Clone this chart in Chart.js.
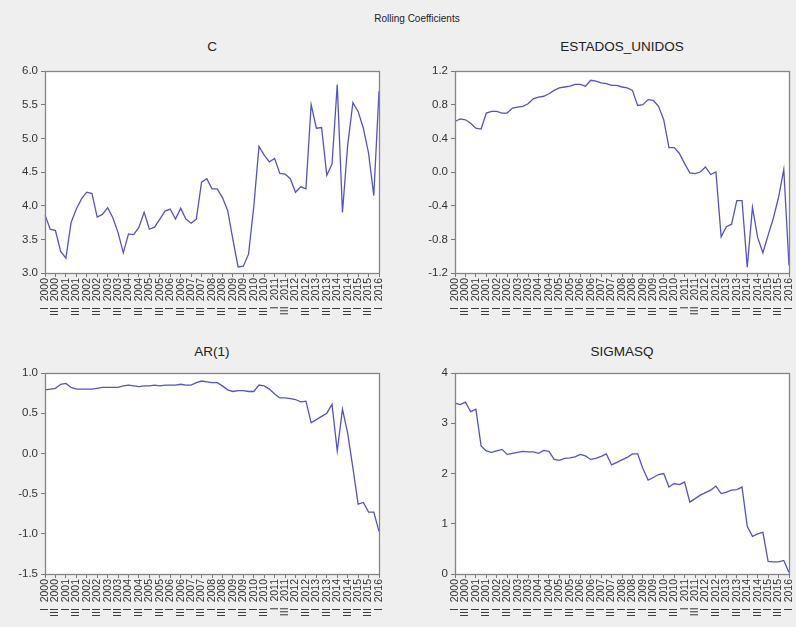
<!DOCTYPE html>
<html>
<head>
<meta charset="utf-8">
<script src="https://cdn.jsdelivr.net/npm/chart.js@4.4.1/dist/chart.umd.min.js"></script>
<style>
  html, body { margin: 0; padding: 0; width: 796px; height: 627px; overflow: hidden; background: #efefef; font-family: "Liberation Sans", Arial, sans-serif; }
  .t { position: absolute; color: #222; text-align: center; white-space: nowrap; }
  .main { top: 13px; left: 317px; width: 200px; font-size: 10px; }
  .pt { font-size: 13.5px; width: 300px; }
  canvas { position: absolute; }
</style>
</head>
<body>
<div class="t main">Rolling Coefficients</div>
<div class="t pt" style="left:62px; top:39px;">C</div>
<div class="t pt" style="left:472px; top:39px;">ESTADOS_UNIDOS</div>
<div class="t pt" style="left:62px; top:344px;">AR(1)</div>
<div class="t pt" style="left:472px; top:344px;">SIGMASQ</div>
<canvas id="c1" width="392" height="260" style="left:0px; top:60px;"></canvas>
<canvas id="c2" width="396" height="260" style="left:400px; top:60px;"></canvas>
<canvas id="c3" width="392" height="259" style="left:0px; top:362px;"></canvas>
<canvas id="c4" width="396" height="259" style="left:400px; top:362px;"></canvas>
<script>
// Quarterly periods 2000 Q1 .. 2016 Q1
const years = [2000,2001,2002,2003,2004,2005,2006,2007,2008,2009,2010,2011,2012,2013,2014,2015,2016];
const quarterNames = ['I','II','III','IV'];
const nObs = 65;

const seriesC = [
  3.86, 3.65, 3.63, 3.32, 3.22, 3.75, 3.95, 4.10, 4.20, 4.18,
  3.83, 3.87, 3.97, 3.82, 3.60, 3.30, 3.58, 3.57, 3.68, 3.90,
  3.65, 3.68, 3.80, 3.92, 3.95, 3.80, 3.96, 3.80, 3.74, 3.80,
  4.35, 4.40, 4.25, 4.25, 4.12, 3.93, 3.50, 3.09, 3.10, 3.28,
  3.98, 4.88, 4.75, 4.65, 4.70, 4.48, 4.47, 4.40, 4.20, 4.28,
  4.25, 5.50, 5.15, 5.16, 4.45, 4.62, 5.80, 3.90, 4.90, 5.53,
  5.40, 5.15, 4.78, 4.15, 5.70
];
const seriesEstados = [
  0.60, 0.63, 0.62, 0.58, 0.52, 0.51, 0.70, 0.72, 0.72, 0.70,
  0.70, 0.76, 0.77, 0.78, 0.81, 0.87, 0.89, 0.90, 0.93, 0.97,
  1.00, 1.01, 1.02, 1.04, 1.04, 1.02, 1.09, 1.08, 1.06, 1.05,
  1.03, 1.03, 1.01, 1.00, 0.97, 0.79, 0.80, 0.86, 0.85, 0.78,
  0.62, 0.29, 0.29, 0.22, 0.10, -0.01, -0.02, 0.00, 0.06, -0.03,
  0.00, -0.77, -0.65, -0.62, -0.34, -0.34, -1.13, -0.42, -0.78, -0.96,
  -0.75, -0.55, -0.30, 0.03, -1.11
];
const seriesAR1 = [
  0.79, 0.80, 0.81, 0.86, 0.87, 0.82, 0.80, 0.80, 0.80, 0.80,
  0.81, 0.82, 0.82, 0.82, 0.82, 0.84, 0.85, 0.84, 0.83, 0.84,
  0.84, 0.85, 0.84, 0.85, 0.85, 0.85, 0.86, 0.85, 0.85, 0.88,
  0.90, 0.89, 0.88, 0.88, 0.84, 0.79, 0.77, 0.78, 0.78, 0.77,
  0.77, 0.85, 0.84, 0.80, 0.74, 0.69, 0.69, 0.68, 0.67, 0.64,
  0.65, 0.38, 0.42, 0.46, 0.50, 0.61, 0.03, 0.55, 0.25, -0.18,
  -0.63, -0.61, -0.73, -0.73, -0.97
];
const seriesSigmasq = [
  3.40, 3.37, 3.42, 3.23, 3.28, 2.55, 2.45, 2.42, 2.45, 2.48,
  2.38, 2.40, 2.42, 2.44, 2.43, 2.43, 2.40, 2.46, 2.44, 2.28,
  2.26, 2.30, 2.31, 2.33, 2.38, 2.35, 2.28, 2.30, 2.34, 2.39,
  2.17, 2.22, 2.27, 2.32, 2.39, 2.39, 2.10, 1.87, 1.92, 1.98,
  2.00, 1.73, 1.80, 1.78, 1.83, 1.43, 1.50, 1.57, 1.62, 1.67,
  1.75, 1.60, 1.63, 1.67, 1.68, 1.73, 0.95, 0.75, 0.80, 0.83,
  0.25, 0.24, 0.24, 0.27, 0.03
];

const axisRanges = {
  C:       { min: 3.0,  max: 6.0, step: 0.5, dec: 1 },
  ESTADOS: { min: -1.2, max: 1.2, step: 0.4, dec: 1 },
  AR1:     { min: -1.5, max: 1.0, step: 0.5, dec: 1 },
  SIGMASQ: { min: 0,    max: 4,   step: 1,   dec: 0 }
};

const periodLabels = [];
for (let i = 0; i < nObs; i++) {
  const y = years[Math.floor(i / 4)];
  const q = quarterNames[i % 4];
  periodLabels.push(q + '  ' + y);
}

const frame = {
  id: 'frame',
  beforeDraw(chart) {
    const a = chart.chartArea, ctx = chart.ctx;
    ctx.save();
    ctx.fillStyle = '#ffffff';
    ctx.fillRect(a.left, a.top, a.right - a.left, a.bottom - a.top);
    ctx.restore();
  },
  afterDraw(chart) {
    const a = chart.chartArea, ctx = chart.ctx;
    ctx.save();
    ctx.strokeStyle = '#858585';
    ctx.lineWidth = 1.3;
    ctx.strokeRect(Math.round(a.left) + 0.5, Math.round(a.top) + 0.5, Math.round(a.right - a.left), Math.round(a.bottom - a.top));
    ctx.restore();
  }
};

function makeChart(id, data, rng, yWidth, padRight) {
  return new Chart(document.getElementById(id), {
    type: 'line',
    data: {
      labels: periodLabels,
      datasets: [{
        data: data,
        borderColor: '#5353c4',
        borderWidth: 1.3,
        pointRadius: 0,
        tension: 0,
        fill: false
      }]
    },
    options: {
      responsive: false,
      animation: false,
      layout: { padding: { top: 11, right: padRight, bottom: 0, left: 0 } },
      plugins: { legend: { display: false }, tooltip: { enabled: false }, title: { display: false } },
      scales: {
        x: {
          type: 'category',
          offset: false,
          grid: { display: true, drawOnChartArea: false, drawTicks: true, tickLength: 4, color: '#777' },
          border: { display: true, color: '#858585' },
          ticks: {
            autoSkip: false,
            minRotation: 90,
            maxRotation: 90,
            padding: 1,
            color: '#333',
            font: { family: 'Liberation Sans', size: 10.5 },
            callback: function (v, idx) { return idx % 2 === 0 ? periodLabels[idx] : null; }
          },
          afterFit(s) { s.height = 47; s.paddingLeft = 0; s.paddingRight = 0; }
        },
        y: {
          min: rng.min,
          max: rng.max,
          grid: { display: true, drawOnChartArea: false, drawTicks: true, tickLength: 4, color: '#777' },
          border: { display: true, color: '#858585' },
          ticks: {
            stepSize: rng.step,
            padding: 3,
            color: '#333',
            font: { family: 'Liberation Sans', size: 11.5 },
            callback: function (v) { return Number(v).toFixed(rng.dec); }
          },
          afterFit(s) { s.width = yWidth; }
        }
      }
    },
    plugins: [frame]
  });
}

makeChart('c1', seriesC, axisRanges.C, 45, 13);
makeChart('c2', seriesEstados, axisRanges.ESTADOS, 55, 7);
makeChart('c3', seriesAR1, axisRanges.AR1, 45, 13);
makeChart('c4', seriesSigmasq, axisRanges.SIGMASQ, 55, 7);
</script>
</body>
</html>
